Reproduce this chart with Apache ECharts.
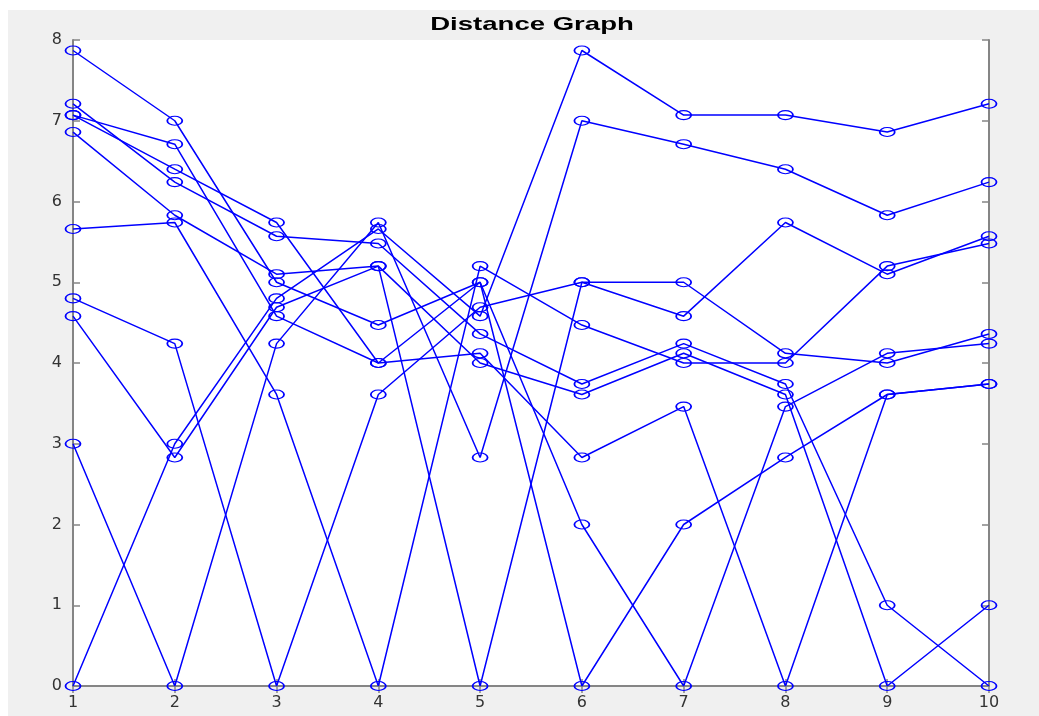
<!DOCTYPE html>
<html>
<head>
<meta charset="utf-8">
<title>Distance Graph</title>
<script src="https://cdn.jsdelivr.net/npm/echarts@6/dist/echarts.min.js"></script>
<style>
    html, body { margin: 0; padding: 0; background: #f0f0f0; }
    #ChartDIV { width: 1039px; height: 716px; }
</style>
</head>
<body>
<div id="ChartDIV"></div>
<script>
// point index on the x axis
var pointIdx = [1, 2, 3, 4, 5, 6, 7, 8, 9, 10];

// distance from point k to every point (one line per point)
var dist1 = [0, 3, 4.80, 5.66, 4.58, 7.87, 7.07, 7.07, 6.86, 7.21];
var dist2 = [3, 0, 4.24, 5.74, 2.83, 7, 6.71, 6.40, 5.83, 6.24];
var dist3 = [4.80, 4.24, 0, 3.61, 4.69, 5, 4.58, 5.74, 5.10, 5.57];
var dist4 = [5.66, 5.74, 3.61, 0, 5.20, 4.47, 4, 4, 5.20, 5.48];
var dist5 = [4.58, 2.83, 4.69, 5.20, 0, 5, 5, 4.12, 4, 4.36];
var dist6 = [7.87, 7, 5, 4.47, 5, 0, 2, 2.83, 3.61, 3.74];
var dist7 = [7.07, 6.71, 4.58, 4, 5, 2, 0, 3.46, 4.12, 4.24];
var dist8 = [7.07, 6.40, 5.74, 4, 4.12, 2.83, 3.46, 0, 3.61, 3.74];
var dist9 = [6.86, 5.83, 5.10, 5.20, 4, 3.61, 4.12, 3.61, 0, 1];
var dist10 = [7.21, 6.24, 5.57, 5.48, 4.36, 3.74, 4.24, 3.74, 1, 0];

var allDist = [dist1, dist2, dist3, dist4, dist5, dist6, dist7, dist8, dist9, dist10];

var myChart = echarts.init(document.getElementById('ChartDIV'));

var axisGray = '#858585';
var labelGray = '#333333';

function makeSeries(values, i) {
    return {
        name: 'P' + (i + 1),
        type: 'line',
        data: values.map(function (v, k) { return [pointIdx[k], v]; }),
        symbol: 'path://M0,50 A50,50 0 1,1 100,50 A50,50 0 1,1 0,50 Z',
        symbolSize: [15, 9],
        showAllSymbol: true,
        lineStyle: { color: '#0000ff', width: 1.5 },
        itemStyle: { color: 'rgba(0,0,0,0)', borderColor: '#0000ff', borderWidth: 1.4 },
        emphasis: { disabled: true },
        z: 3
    };
}

// shared look of the boxed (MATLAB style) axes
function boxAxis(pos, min, max, labels) {
    return {
        type: 'value', min: min, max: max, interval: 1, position: pos,
        axisLine: { show: true, lineStyle: { color: axisGray, width: 2 } },
        axisTick: { show: true, inside: true, length: 7, lineStyle: { color: axisGray, width: 1.5 } },
        axisLabel: labels ? { color: labelGray, fontSize: 16, fontFamily: 'DejaVu Sans', margin: (pos == 'bottom' ? 9 : 11) } : { show: false },
        splitLine: { show: false }
    };
}

var option = {
    animation: false,
    backgroundColor: '#f0f0f0',
    graphic: [
        //-- white screenshot border (top / left)
        { type: 'rect', left: 0, top: 0, shape: { width: 1039, height: 10 }, style: { fill: '#ffffff' }, silent: true },
        { type: 'rect', left: 0, top: 0, shape: { width: 8, height: 716 }, style: { fill: '#ffffff' }, silent: true },
        {
            type: 'text',
            x: 532,
            y: 25,
            scaleX: 1.45,
            style: {
                text: 'Distance Graph',
                align: 'center',
                verticalAlign: 'middle',
                font: 'bold 19px "Liberation Sans", Arial, sans-serif',
                fill: '#000'
            }
        }
    ],
    grid: {
        left: 73, right: 50, top: 40, bottom: 30,
        show: true, backgroundColor: '#ffffff', borderWidth: 0
    },
    xAxis: [boxAxis('bottom', 1, 10, true), boxAxis('top', 1, 10, false)],
    yAxis: [boxAxis('left', 0, 8, true), boxAxis('right', 0, 8, false)],
    series: allDist.map(makeSeries)
};

myChart.setOption(option);

window.addEventListener('resize', function () {
    myChart.resize();
});
</script>
</body>
</html>
